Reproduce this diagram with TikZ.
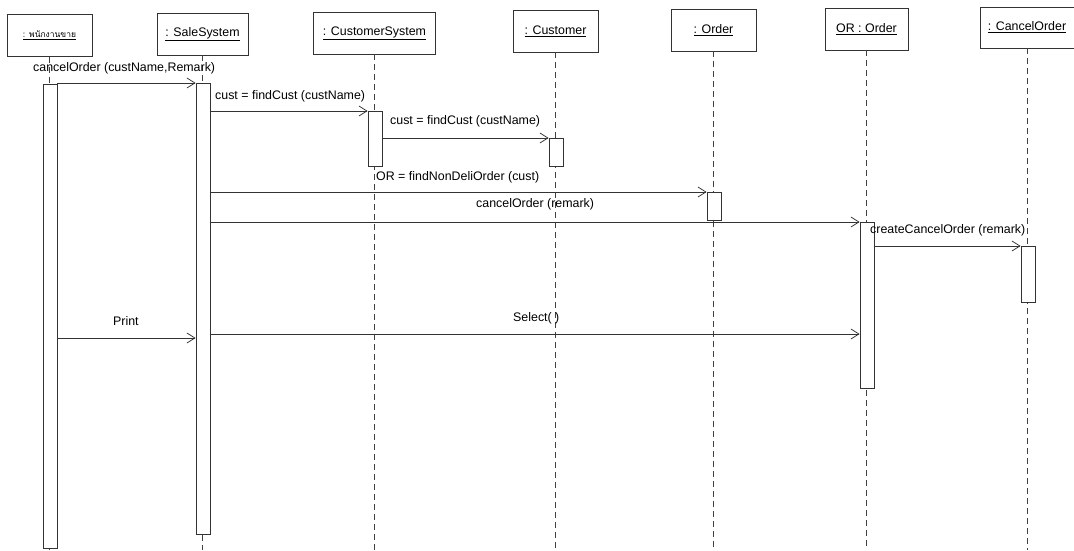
\documentclass[tikz,border=0pt]{standalone}
\usepackage{fontspec}
\setmainfont{Liberation Sans}
\newfontfamily\thaifont[Script=Thai]{Loma}
\usetikzlibrary{arrows.meta}

\begin{document}
\begin{tikzpicture}[x=1pt,y=-1pt,
  ink/.style={draw=black!80, line width=0.75pt},
  objbox/.style={ink, rectangle, minimum height=42pt, inner sep=0pt,
    font=\fontsize{12.4}{14}\selectfont},
  life/.style={draw=black!75, line width=0.7pt, dash pattern=on 6pt off 4pt},
  actbar/.style={ink, fill=white, rectangle, minimum width=14pt, inner sep=0pt, anchor=north},
  msg/.style={ink, -{Straight Barb[length=8pt,width=10pt]}},
  lbl/.style={anchor=west, inner sep=0pt, font=\fontsize{12.4}{14}\selectfont}
]
\useasboundingbox (0,0) rectangle (1074,550);
\coordinate (bottom) at (0,550);

% object boxes
\node[objbox, minimum width=85pt] (bU) at (49.5,35.5) {\thaifont\fontsize{8.5}{10}\selectfont\underline{: พนักงานขาย}};
\node[objbox, minimum width=91pt] (bS) at (202.5,34) {\underline{: SaleSystem}};
\node[objbox, minimum width=122pt] (bC) at (374.5,33) {\underline{: CustomerSystem}};
\node[objbox, minimum width=85pt] (bCu) at (555.5,31) {\underline{: Customer}};
\node[objbox, minimum width=85pt] (bO) at (713.5,30) {\underline{: Order}};
\node[objbox, minimum width=83pt] (bR) at (866.5,29) {\underline{OR : Order}};
\node[objbox, minimum width=94pt, minimum height=41pt] (bCO) at (1027,27.5) {\underline{: CancelOrder}};

% lifelines
\foreach \b in {bU,bS,bC,bCu,bO,bR,bCO}
  \draw[life] (\b.south) -- (\b.south |- bottom);

% activation bars
\node[actbar, minimum height=464pt] (aU) at (50,84) {};
\node[actbar, minimum height=451pt] (aS) at (203,83) {};
\node[actbar, minimum height=55pt] (aC) at (375,111) {};
\node[actbar, minimum height=28pt] (aCu) at (556,138) {};
\node[actbar, minimum height=28pt] (aO) at (714,192) {};
\node[actbar, minimum height=166pt] (aR) at (867,222) {};
\node[actbar, minimum height=56pt] (aCO) at (1028,246) {};

% messages
\draw[msg] (aU.east |- aS.north) -- (aS.north west);
\draw[msg] (aS.east |- aC.north) -- (aC.north west);
\draw[msg] (aC.east |- aCu.north) -- (aCu.north west);
\draw[msg] (aS.east |- aO.north) -- (aO.north west);
\draw[msg] (aS.east |- aR.north) -- (aR.north west);
\draw[msg] (aR.east |- aCO.north) -- (aCO.north west);
\coordinate (yPrint) at (0,338);
\coordinate (ySelect) at (0,334);
\draw[msg] (aU.east |- yPrint) -- (aS.west |- yPrint);
\draw[msg] (aS.east |- ySelect) -- (aR.west |- ySelect);

% message labels
\node[lbl] (l1) at (33,68) {cancelOrder (custName,Remark)};
\node[lbl] (l2) at (215,96) {cust = findCust (custName)};
\node[lbl] (l3) at (390,121) {cust = findCust (custName)};
\node[lbl] (l4) at (376,177) {OR = findNonDeliOrder (cust)};
\node[lbl] (l5) at (476,204) {cancelOrder (remark)};
\node[lbl] (l6) at (870,230) {createCancelOrder (remark)};
\node[lbl] (l7) at (113,321) {Print};
\node[lbl] (l8) at (513,318) {Select( )};
\end{tikzpicture}
\end{document}
